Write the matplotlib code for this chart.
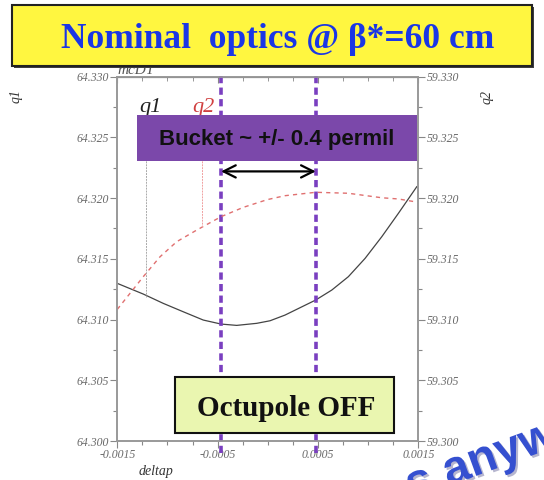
import matplotlib
matplotlib.use('Agg')
import matplotlib.pyplot as plt
from matplotlib.patches import Rectangle
import matplotlib.ticker as ticker
import matplotlib.patheffects as pe

# 数据
q1_dp = [-0.0015, -0.001241, -0.001041, -0.000842, -0.000643, -0.000466, -0.000310,
         -0.000110, 0.000022, 0.000172, 0.000478, 0.000638, 0.000803, 0.000970,
         0.001136, 0.001302, 0.001485]
q1 = [64.31298, 64.31210, 64.31133, 64.31064, 64.30996, 64.30963, 64.30952,
      64.30969, 64.30990, 64.31037, 64.31161, 64.31243, 64.31353, 64.31504,
      64.31682, 64.31875, 64.32094]
q2_dp = [-0.0015, -0.001373, -0.001241, -0.001074, -0.000908, -0.000708, -0.000466,
         -0.000244, -0.000003, 0.000172, 0.000478, 0.000803, 0.001136, 0.001302, 0.001468]
q2 = [59.31084, 59.31216, 59.31353, 59.31517, 59.31641, 59.31737, 59.31847,
      59.31924, 59.31988, 59.32020, 59.32048, 59.32040, 59.32003, 59.31993, 59.31970]
bucket_edges = [-0.000466, 0.000478]
marker_q1 = (-0.001213, 64.31188)
marker_q2 = (-0.000659, 59.31764)
x_ticks = [-0.0015, -0.0005, 0.0005, 0.0015]
q1_ticks = [64.300, 64.305, 64.310, 64.315, 64.320, 64.325, 64.330]
q2_ticks = [59.300, 59.305, 59.310, 59.315, 59.320, 59.325, 59.330]

serif = ['Liberation Serif', 'DejaVu Serif']
sans = ['Liberation Sans', 'DejaVu Sans']
grey = '#6a6a6a'
purple = '#7a3fc0'

fig = plt.figure(figsize=(5.44, 4.8), dpi=100)
ax1 = fig.add_axes([0.2156, 0.08125, 0.5533, 0.759])
ax2 = ax1.twinx()

ax1.plot(q1_dp, q1, c='#444444', lw=0.9)
ax2.plot(q2_dp, q2, c='#e07070', lw=1.0, dashes=(3, 3))
# 细竖线
ax1.plot([marker_q1[0], marker_q1[0]], [marker_q1[1], 64.325], c='#aaaaaa', lw=0.7, ls=(0, (2, 1)))
ax2.plot([marker_q2[0], marker_q2[0]], [marker_q2[1], 59.325], c='#f0a0a0', lw=0.7, ls=(0, (2, 1)))

ax1.set_xlim(-0.0015, 0.0015)
ax1.set_ylim(64.300, 64.330)
ax2.set_ylim(59.300, 59.330)
ax1.set_xticks(x_ticks)
ax1.set_yticks(q1_ticks)
ax2.set_yticks(q2_ticks)
ax1.xaxis.set_minor_locator(ticker.MultipleLocator(0.00025))
ax1.yaxis.set_minor_locator(ticker.MultipleLocator(0.0025))
ax2.yaxis.set_minor_locator(ticker.MultipleLocator(0.0025))
ax1.set_xticklabels(['-0.0015', '-0.0005', '0.0005', '0.0015'])
ax1.set_yticklabels(['%.3f' % v for v in q1_ticks])
ax2.set_yticklabels(['%.3f' % v for v in q2_ticks])
for a in (ax1, ax2):
    a.tick_params(which='both', color='#888888', labelcolor=grey, width=0.8, pad=1)
    a.tick_params(which='major', length=5)
    a.tick_params(which='minor', length=3)
    for lab in a.get_xticklabels() + a.get_yticklabels():
        lab.set_family(serif)
        lab.set_style('italic')
        lab.set_fontsize(8.5)
    for s in a.spines.values():
        s.set_color('#999999')
        s.set_linewidth(1.2)
top = ax1.secondary_xaxis('top')
top.set_xticks(x_ticks)
top.xaxis.set_minor_locator(ticker.MultipleLocator(0.00025))
top.tick_params(which='both', direction='in', color='#888888', labeltop=False, length=4)
top.tick_params(which='minor', length=3)

ax1.set_xlabel('deltap', family=serif, style='italic', fontsize=10, color='#333333')
ax1.xaxis.set_label_coords(0.13, -0.065)
fig.text(0.03, 0.80, 'q1', rotation=90, family=serif, style='italic', fontsize=10,
         color='#333333', ha='center', va='center')
fig.text(0.895, 0.798, 'q2', rotation=90, family=serif, style='italic', fontsize=10,
         color='#333333', ha='center', va='center')
ax1.text(0.0, 1.0, 'mcDT', transform=ax1.transAxes, family=serif, style='italic',
         fontsize=11, color='#555555', va='bottom')

ax1.text(0.11, 0.915, 'q1', transform=ax1.transAxes, family=serif, style='italic',
         fontsize=16, color='#222222', ha='center', va='center')
ax1.text(0.285, 0.915, 'q2', transform=ax1.transAxes, family=serif, style='italic',
         fontsize=16, color='#d04040', ha='center', va='center')

# 紫色虚线 (bucket 边界)
for xv in bucket_edges:
    ax1.axvline(xv, ymin=-0.033, ymax=1.005, color=purple, lw=2.6, dashes=(2, 1.2),
                clip_on=False, zorder=5)

ax1.annotate('', xy=(bucket_edges[0], 64.3222), xytext=(bucket_edges[1], 64.3222),
             arrowprops=dict(arrowstyle='<->', color='black', lw=1.6,
                             mutation_scale=22, shrinkA=0, shrinkB=0), zorder=6)

# Bucket 框
fig.add_artist(Rectangle((0.2518, 0.6646), 0.5147, 0.0958, transform=fig.transFigure,
                         facecolor='#7b48aa', edgecolor='none', zorder=10))
fig.text(0.509, 0.7104, 'Bucket ~ +/- 0.4 permil', family=sans, weight='bold',
         fontsize=16, color='#111111', ha='center', va='center', zorder=11)

# 标题框
fig.add_artist(Rectangle((0.026, 0.8590), 0.956, 0.127, transform=fig.transFigure,
                         facecolor='#404040', edgecolor='none', zorder=9))
fig.add_artist(Rectangle((0.022, 0.8635), 0.956, 0.126, transform=fig.transFigure,
                         facecolor='#fff640', edgecolor='#222222', lw=1.5, zorder=10))
fig.text(0.51, 0.917, 'Nominal  optics @ β*=60 cm', family=serif, weight='bold',
         fontsize=25.5, color='#1a36e6', ha='center', va='center', zorder=11)

# Octupole OFF 框
fig.add_artist(Rectangle((0.3217, 0.0979), 0.4026, 0.1167, transform=fig.transFigure,
                         facecolor='#eaf6b0', edgecolor='#111111', lw=1.5, zorder=10))
fig.text(0.526, 0.150, 'Octupole OFF', family=serif, weight='bold',
         fontsize=21, color='#111111', ha='center', va='center', zorder=11)

# 水印
fig.text(0.735, -0.06, 's anyw', family=sans, weight='bold', fontsize=34, color='#3550d0',
         rotation=20, ha='left', va='bottom', zorder=12,
         path_effects=[pe.withSimplePatchShadow(offset=(1.5, -1.5), shadow_rgbFace='#101060')])

fig.savefig('out.png', dpi=100)
